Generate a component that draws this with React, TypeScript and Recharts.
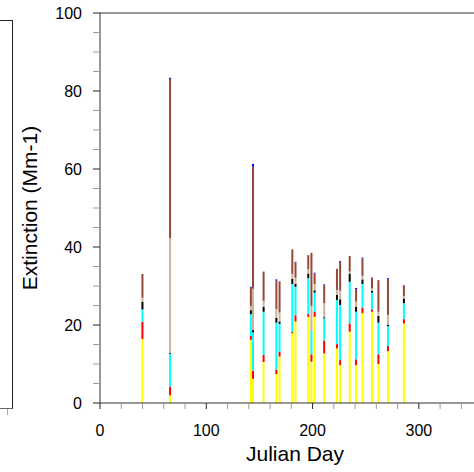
import React from "react";
import { BarChart, Bar, XAxis, YAxis, ReferenceLine } from "recharts";

// sample days (Julian day) and stacked extinction components (Mm-1), bottom to top
const days = [40, 66, 142, 144, 154, 166, 169, 181, 184, 196, 199, 202, 211, 223, 226, 235, 241, 247, 256, 262, 271, 286];
const sulfate = [16.4, 2.0, 16.2, 6.2, 10.5, 7.4, 11.9, 17.9, 20.9, 22.1, 10.6, 22.1, 12.7, 14.0, 9.7, 18.3, 9.7, 23.0, 23.4, 10.0, 13.3, 20.4];
const nitrate = [4.4, 2.2, 1.0, 2.1, 1.8, 1.2, 1.2, 0.4, 1.6, 0.7, 1.9, 1.3, 3.3, 1.1, 1.3, 2.1, 1.5, 1.5, 0.6, 2.5, 1.3, 1.1];
const organic = [3.2, 8.4, 5.6, 9.8, 11.1, 12.0, 7.2, 12.2, 7.3, 9.2, 6.0, 4.9, 5.7, 11.3, 14.1, 10.7, 12.2, 6.0, 4.3, 8.1, 5.1, 4.1];
const elemental = [2.0, 0.2, 1.0, 0.6, 1.3, 1.2, 0.6, 1.3, 0.8, 1.2, 0.0, 0.6, 0.3, 1.3, 1.5, 2.1, 1.3, 1.2, 0.5, 1.7, 0.4, 1.2];
const soil = [1.0, 29.5, 1.1, 10.6, 1.5, 2.3, 2.3, 1.3, 1.5, 1.1, 6.4, 1.6, 3.6, 1.3, 2.2, 0.5, 1.3, 0.9, 0.6, 1.1, 2.5, 0.6];
const coarse = [6.1, 40.8, 4.7, 31.3, 7.5, 7.3, 8.0, 6.3, 3.9, 3.6, 13.6, 2.7, 4.6, 5.4, 7.4, 4.0, 3.2, 4.5, 2.8, 8.1, 9.1, 2.8];
const seaSalt = [0, 0.3, 0.2, 0.7, 0, 0.3, 0, 0, 0.2, 0, 0, 0.2, 0.2, 0, 0.2, 0, 0.3, 0.2, 0, 0, 0.3, 0];

const yTicks = [0, 5, 10, 15, 20, 25, 30, 35, 40, 45, 50, 55, 60, 65, 70, 75, 80, 85, 90, 95, 100];
const xTicks = [0, 20, 40, 60, 80, 100, 120, 140, 160, 180, 200, 220, 240, 260, 280, 300, 320, 340, 360];

const data = days.map((day, i) => ({
  day,
  sulfate: sulfate[i],
  nitrate: nitrate[i],
  organic: organic[i],
  elemental: elemental[i],
  soil: soil[i],
  coarse: coarse[i],
  seaSalt: seaSalt[i],
}));

const series = [
  { key: "sulfate", color: "#ffff00" },
  { key: "nitrate", color: "#ff0000" },
  { key: "organic", color: "#00ffff" },
  { key: "elemental", color: "#000000" },
  { key: "soil", color: "#c8b59b" },
  { key: "coarse", color: "#934839" },
  { key: "seaSalt", color: "#0000ff" },
];

const FONT = "'Liberation Sans', Arial, Helvetica, sans-serif";

const YTick = ({ x, y, payload }: any) => {
  const major = payload.value % 20 === 0;
  return (
    <g>
      <line x1={x} x2={x - 7} y1={y} y2={y} stroke={major ? "#222" : "#999"} />
      {major && (
        <text x={x - 18} y={y + 6} textAnchor="end" fontSize={16} fill="#000" fontFamily={FONT}>
          {payload.value}
        </text>
      )}
    </g>
  );
};

const XTick = ({ x, y, payload }: any) => {
  const major = payload.value % 100 === 0;
  return (
    <g>
      <line x1={x} x2={x} y1={y} y2={y + 6} stroke={major ? "#222" : "#999"} />
      {major && (
        <text x={x} y={y + 33} textAnchor="middle" fontSize={16} fill="#000" fontFamily={FONT}>
          {payload.value}
        </text>
      )}
    </g>
  );
};

export default function App() {
  return (
    <div
      style={{
        position: "fixed",
        left: 0,
        top: 0,
        width: 474,
        height: 472,
        overflow: "hidden",
        background: "#fff",
        fontFamily: FONT,
      }}
    >
      {/* edge of the neighbouring panel */}
      <div
        style={{
          position: "absolute",
          left: -2,
          top: 20,
          width: 14,
          height: 387,
          borderTop: "1px solid #222",
          borderRight: "1px solid #222",
          borderBottom: "1px solid #666",
        }}
      />
      <div style={{ position: "absolute", left: 7, top: 409, width: 1, height: 6, background: "#aaa" }} />
      <BarChart
        width={489}
        height={472}
        data={data}
        margin={{ top: 13, right: 0, left: 0, bottom: 0 }}
        barSize={2}
      >
        <XAxis
          dataKey="day"
          type="number"
          domain={[0, 366]}
          ticks={xTicks}
          interval={0}
          height={69}
          tickSize={0}
          tickMargin={0}
          tick={<XTick />}
          axisLine={{ stroke: "#333" }}
          allowDataOverflow
          label={{
            content: () => (
              <text x={295} y={461} textAnchor="middle" fontSize={21} fill="#000" fontFamily={FONT}>
                Julian Day
              </text>
            ),
          }}
        />
        <YAxis
          type="number"
          domain={[0, 100]}
          ticks={yTicks}
          interval={0}
          width={100}
          tickSize={0}
          tickMargin={0}
          tick={<YTick />}
          axisLine={{ stroke: "#333" }}
          allowDataOverflow
          label={{
            content: () => (
              <text
                x={29}
                y={208}
                transform="rotate(-90, 29, 208)"
                textAnchor="middle"
                dominantBaseline="central"
                fontSize={21}
                fill="#000"
                fontFamily={FONT}
              >
                Extinction (Mm-1)
              </text>
            ),
          }}
        />
        <ReferenceLine y={100} stroke="#333" ifOverflow="extendDomain" />
        {series.map((s) => (
          <Bar key={s.key} dataKey={s.key} stackId="a" fill={s.color} isAnimationActive={false} />
        ))}
      </BarChart>
    </div>
  );
}
